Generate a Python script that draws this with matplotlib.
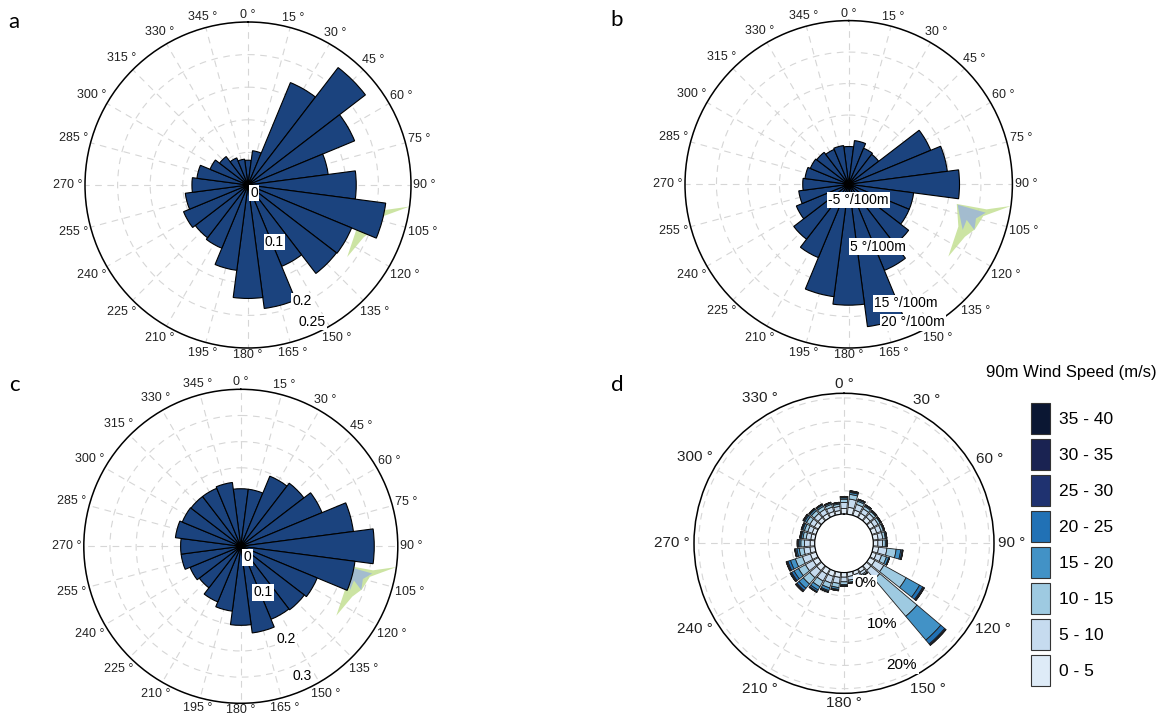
import numpy as np
import matplotlib
matplotlib.use('Agg')
import matplotlib.pyplot as plt
from matplotlib.patches import Patch

plt.rcParams['font.family'] = ['Liberation Sans', 'DejaVu Sans']

W, H = 1165, 721

# ---- data ----
dirs_15 = np.arange(0, 360, 15)

# a: frequency per 15 deg sector
freq_a = [0.038, 0.053, 0.170, 0.227, 0.177, 0.124, 0.166, 0.213, 0.172, 0.171, 0.135, 0.191,
          0.174, 0.132, 0.105, 0.102, 0.107, 0.097, 0.086, 0.079, 0.063, 0.055, 0.045, 0.040]
# b: lapse rate per sector (deg/100m)
rate_b = [0.0, 1.0, 0.2, 0.0, 8.1, 9.8, 11.6, 4.4, 4.4, 6.0, 8.8, 16.8,
          13.2, 12.0, 6.6, 5.0, 3.0, 2.0, 1.3, 1.0, 0.6, 0.4, 0.0, 0.2]
# c: frequency per sector
freq_c = [0.110, 0.110, 0.145, 0.152, 0.168, 0.217, 0.255, 0.220, 0.158, 0.153, 0.151, 0.167,
          0.151, 0.125, 0.115, 0.100, 0.105, 0.115, 0.115, 0.126, 0.121, 0.120, 0.120, 0.123]

# wind farm footprint shapes (bearing deg, fraction of axis radius)
green_theta = [100.3, 100.3, 97.6, 103.3, 109.6, 114.3, 126.0, 111.1]
green_frac = [0.671, 0.856, 1.0, 0.845, 0.819, 0.779, 0.752, 0.718]
blue_theta = [100.6, 101.7, 105.0, 110.0, 106.8, 111.8, 104.7]
blue_frac = [0.677, 0.855, 0.805, 0.817, 0.753, 0.750, 0.698]

# d: wind rose, 32 sectors, % per speed class
dirs_d = np.arange(0, 360, 11.25)
speed_classes = ['0 - 5', '5 - 10', '10 - 15', '15 - 20', '20 - 25', '25 - 30', '30 - 35', '35 - 40']
speed_colors = ['#deebf7', '#c6dbef', '#9ecae1', '#4292c6', '#2171b5', '#1f3270', '#1a2352', '#0b1733']
d_0_5 = [1.2, 1.5, 1.2, 1.1, 1.1, 1.1, 1.1, 1.1, 1.0, 1.2, 1.0, 1.3, 1.3, 0.8, 0.8, 0.9,
         1.0, 1.1, 1.2, 1.3, 1.4, 1.3, 1.3, 1.1, 1.0, 0.9, 0.9, 1.0, 1.0, 1.0, 0.9, 0.8]
d_5_10 = [1.3, 1.8, 1.3, 1.1, 1.0, 1.0, 1.0, 1.0, 1.0, 1.8, 1.2, 2.2, 2.5, 0.6, 0.6, 0.8,
          1.0, 1.3, 1.5, 1.7, 2.0, 1.9, 1.8, 1.3, 1.2, 1.0, 1.0, 1.1, 1.1, 1.1, 1.0, 0.9]
d_10_15 = [0.7, 1.0, 0.7, 0.6, 0.55, 0.5, 0.5, 0.55, 0.6, 2.0, 1.1, 5.5, 10.5, 0.3, 0.3, 0.45,
           0.6, 0.9, 1.1, 1.4, 1.8, 1.7, 1.6, 1.0, 0.8, 0.7, 0.75, 0.85, 0.8, 0.7, 0.6, 0.5]
d_15_20 = [0.3, 0.4, 0.3, 0.25, 0.2, 0.2, 0.2, 0.22, 0.25, 1.0, 0.5, 3.3, 6.7, 0.07, 0.07, 0.15,
           0.25, 0.4, 0.6, 0.8, 1.2, 1.1, 1.1, 0.5, 0.4, 0.35, 0.38, 0.42, 0.4, 0.35, 0.3, 0.25]
d_20_25 = [0.15, 0.2, 0.12, 0.1, 0.1, 0.07, 0.07, 0.08, 0.1, 0.3, 0.15, 0.8, 1.1, 0.02, 0.02, 0.06,
           0.1, 0.2, 0.25, 0.4, 0.6, 0.6, 0.6, 0.3, 0.2, 0.2, 0.22, 0.25, 0.2, 0.17, 0.13, 0.1]
d_25_30 = [0.1, 0.12, 0.05, 0.03, 0.03, 0.02, 0.02, 0.03, 0.03, 0.12, 0.03, 0.25, 0.25, 0.01, 0.01, 0.03,
           0.03, 0.07, 0.1, 0.13, 0.25, 0.25, 0.25, 0.12, 0.12, 0.1, 0.1, 0.12, 0.07, 0.05, 0.05, 0.03]
d_30_35 = [0.03, 0.05, 0.02, 0.01, 0.01, 0.005, 0.005, 0.01, 0.01, 0.05, 0.01, 0.1, 0.1, 0, 0, 0.01,
           0.01, 0.02, 0.03, 0.05, 0.1, 0.1, 0.1, 0.05, 0.05, 0.03, 0.03, 0.04, 0.02, 0.02, 0.01, 0.01]
d_35_40 = [0.02, 0.03, 0.01, 0.01, 0.01, 0.005, 0.005, 0.01, 0.01, 0.03, 0.01, 0.05, 0.05, 0, 0, 0,
           0.01, 0.01, 0.02, 0.02, 0.05, 0.05, 0.05, 0.03, 0.03, 0.02, 0.02, 0.02, 0.01, 0.01, 0.01, 0.01]
d_stack = [d_0_5, d_5_10, d_10_15, d_15_20, d_20_25, d_25_30, d_30_35, d_35_40]

bar_color = '#1b437e'
grid_kw = dict(color='#d6d6d6', linestyle=(0, (6, 5)), linewidth=0.8)


def box(cx, cy, r):
    return [(cx - r) / W, (H - cy - r) / H, 2 * r / W, 2 * r / H]


def setup(ax, rmin, rmax, rticks, step, R_px, rorigin, fs, dig_w, extra_w, half_h, gap):
    ax.set_theta_zero_location('N')
    ax.set_theta_direction(-1)
    ax.set_rlim(rmin, rmax)
    ax.set_axisbelow(True)
    degs = np.arange(0, 360, step)
    ax.set_thetagrids(degs, labels=[''] * len(degs))
    ax.set_rgrids(rticks)
    ax.set_yticklabels([])
    ax.grid(True, **grid_kw)
    ax.spines['polar'].set_linewidth(1.1)
    # angle labels sit just outside the rim, like MATLAB
    for d in degs:
        s, c = abs(np.sin(np.deg2rad(d))), abs(np.cos(np.deg2rad(d)))
        off = gap + s * (dig_w * len(str(d)) + extra_w) / 2 + c * half_h
        r = rorigin + (R_px + off) / R_px * (rmax - rorigin)
        ax.text(np.deg2rad(d), r, f'{d} °', ha='center', va='center', fontsize=fs,
                color='#222222', clip_on=False)


def rlabels(ax, labels, fs):
    for txt, th, r in labels:
        ax.text(np.deg2rad(th), r, txt, ha='center', va='center', fontsize=fs, zorder=10,
                bbox=dict(facecolor='white', edgecolor='none', pad=1.0))


def footprint(ax, rmin, rmax):
    g_r = [rmin + f * (rmax - rmin) for f in green_frac]
    b_r = [rmin + f * (rmax - rmin) for f in blue_frac]
    ax.fill(np.deg2rad(green_theta), g_r, color='#c7e199', lw=0, alpha=0.9, zorder=1)
    ax.fill(np.deg2rad(blue_theta), b_r, color='#9fb8d4', lw=0, alpha=0.9, zorder=1.1)


def rose(ax, vals, rmin):
    ax.bar(np.deg2rad(dirs_15), np.array(vals) - rmin, width=np.deg2rad(15), bottom=rmin,
           color=bar_color, edgecolor='black', linewidth=0.8, zorder=2)


fig = plt.figure(figsize=(W / 100, H / 100), dpi=100)
lab_kw = dict(fs=9, dig_w=6.95, extra_w=8.5, half_h=4.5, gap=2.5)

# panel a
ax_a = fig.add_axes(box(248, 185, 163), projection='polar')
setup(ax_a, 0, 0.25, [0.05, 0.1, 0.15, 0.2, 0.25], 15, 163, 0, **lab_kw)
footprint(ax_a, 0, 0.25)
rose(ax_a, freq_a, 0)
rlabels(ax_a, [('0', 143, 0.0155), ('0.1', 155, 0.0963), ('0.2', 155, 0.1965), ('0.25', 155, 0.232)], 10)

# panel b
ax_b = fig.add_axes(box(848.7, 184.3, 163.7), projection='polar')
setup(ax_b, -6, 20, [-5, 0, 5, 10, 15, 20], 15, 163.7, -6, **lab_kw)
footprint(ax_b, -6, 20)
rose(ax_b, rate_b, -6)
rlabels(ax_b, [('-5 °/100m', 148.6, -3.08), ('5 °/100m', 154.6, 4.96),
               ('15 °/100m', 154.4, 14.95), ('20 °/100m', 155, 18.2)], 10)

# panel c
ax_c = fig.add_axes(box(240.8, 546.3, 157), projection='polar')
setup(ax_c, 0, 0.3, [0.05, 0.1, 0.15, 0.2, 0.25, 0.3], 15, 157, 0, **lab_kw)
footprint(ax_c, 0, 0.3)
rose(ax_c, freq_c, 0)
rlabels(ax_c, [('0', 148, 0.025), ('0.1', 154.2, 0.098), ('0.2', 153.9, 0.197), ('0.3', 154.5, 0.274)], 10)

# panel d
ax_d = fig.add_axes(box(844, 543.3, 150), projection='polar')
setup(ax_d, 0, 26, [5, 10, 15, 20, 25], 30, 150, -6.3, fs=11, dig_w=8.5, extra_w=10.4, half_h=5.5, gap=4)
ax_d.set_rorigin(-6.3)
bottom = np.zeros(len(dirs_d))
for vals, col in zip(d_stack, speed_colors):
    ax_d.bar(np.deg2rad(dirs_d), vals, width=np.deg2rad(11.25 * 0.85), bottom=bottom,
             color=col, edgecolor='#1e1e1e', linewidth=0.6, zorder=2)
    bottom = bottom + np.array(vals)
rlabels(ax_d, [('0%', 152.1, 3.4), ('10%', 154.8, 12.8), ('20%', 154.6, 22.8)], 11)

handles = [Patch(facecolor=c, edgecolor='#333333', linewidth=0.8) for c in speed_colors[::-1]]
fig.legend(handles, speed_classes[::-1], loc='upper left', bbox_to_anchor=(1031 / W, 1 - 403 / H),
           frameon=False, fontsize=12.5, handlelength=1.09, handleheight=2.37, labelspacing=0.29,
           handletextpad=0.52, borderpad=0, borderaxespad=0)
fig.text(1071 / W, 1 - 372 / H, '90m Wind Speed (m/s)', ha='center', va='center', fontsize=12)

for lab, x, y in [('a', 14, 22), ('b', 617, 20), ('c', 14, 385), ('d', 617, 385)]:
    fig.text(x / W, 1 - y / H, lab, ha='center', va='center', fontsize=16, family=['Lato', 'DejaVu Sans'])

fig.savefig('out.png', dpi=100)
